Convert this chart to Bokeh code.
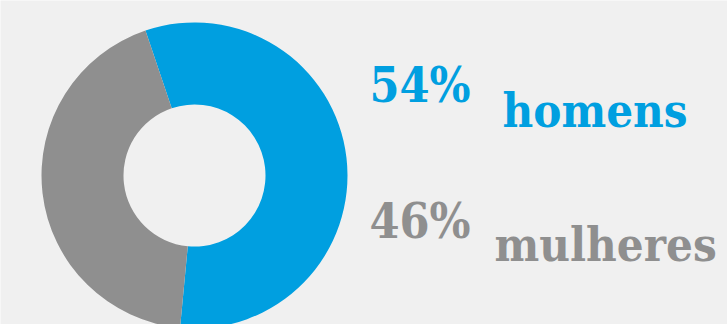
import numpy as np
from bokeh.plotting import figure
from bokeh.models import ColumnDataSource
from bokeh.core.properties import value
from bokeh.embed import file_html
from bokeh.resources import INLINE

categories = ["homens", "mulheres"]
shares = [56.7, 43.3]          # slice sizes as drawn in the picture
pct_labels = ["54%", "46%"]
colors = ["#009FE0", "#8F8F8F"]

W, H = 727, 324
p = figure(width=W, height=H, x_range=(0, W), y_range=(0, H),
           output_backend="svg", toolbar_location=None, min_border=0)
p.axis.visible = False
p.grid.visible = False
p.outline_line_color = None
p.background_fill_color = "#F0F0F0"
p.border_fill_color = "#F0F0F0"

cx, cy = 194, H - 175
start_cw = -18.7
fr = np.array(shares) / sum(shares) * 360
ends_cw = start_cw + np.cumsum(fr)
starts_cw = ends_cw - fr
# bokeh angles: counter-clockwise from +x
src = ColumnDataSource(dict(
    start=np.radians(90 - ends_cw), end=np.radians(90 - starts_cw), color=colors))
p.annular_wedge(x=cx, y=cy, inner_radius=71, outer_radius=153,
                start_angle="start", end_angle="end", color="color",
                line_color=None, source=src)

font = value("DejaVu Serif Condensed")
p.text(x=[369, 369], y=[H - 84, H - 220], text=pct_labels,
       text_color=colors, text_font=font, text_font_style="bold",
       text_font_size="48px", text_baseline="alphabetic", text_align="left")
p.text(x=[502, 494], y=[H - 110, H - 244], text=categories,
       text_color=colors, text_font=font, text_font_style="bold",
       text_font_size="47px", text_baseline="alphabetic", text_align="left")

open("out.html", "w").write(file_html(p, INLINE))
